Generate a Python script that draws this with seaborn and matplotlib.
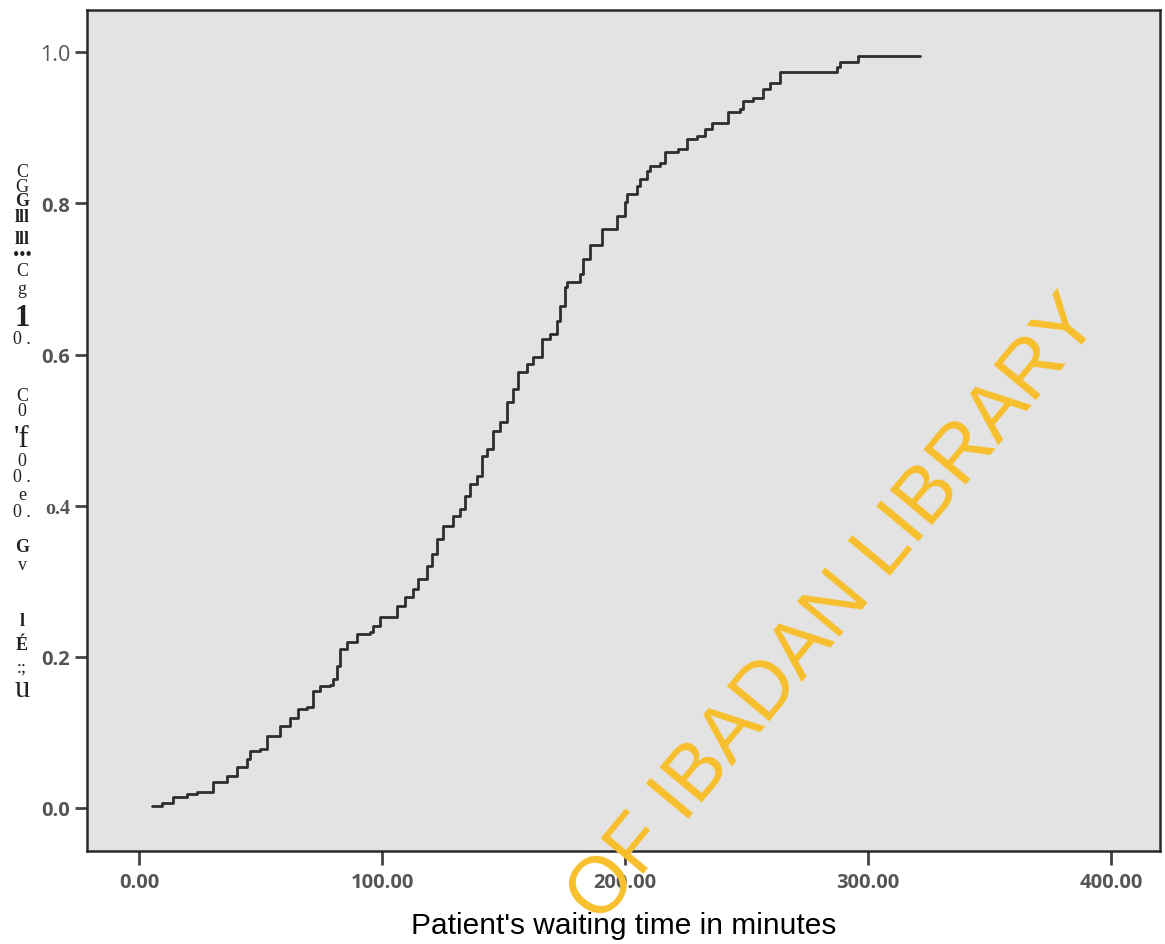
import matplotlib
matplotlib.use("Agg")
import matplotlib.pyplot as plt
import seaborn as sns
import pandas as pd

# cumulative proportion of patients seen
wait_time = [5.2, 9.3, 14.0, 19.8, 23.9, 30.5, 36.2, 40.3, 44.4, 45.7, 49.8, 52.7,
             58.0, 62.1, 65.4, 69.1, 71.6, 74.5, 78.6, 79.8, 81.5, 82.7, 85.6, 89.7,
             95.1, 96.3, 99.2, 106.2, 109.5, 112.8, 114.8, 118.5, 120.6, 122.6, 125.1,
             129.2, 132.1, 134.2, 136.2, 139.1, 141.2, 143.2, 145.7, 148.6, 151.4,
             153.9, 156.0, 159.7, 162.1, 165.8, 169.1, 172.0, 173.3, 175.3, 176.1,
             181.5, 182.7, 185.6, 190.5, 196.7, 200.0, 200.8, 204.9, 206.2, 209.1,
             210.3, 214.4, 216.5, 221.8, 225.5, 229.6, 232.9, 235.8, 242.4, 247.3,
             248.6, 252.7, 256.8, 259.7, 263.8, 287.2, 288.5, 295.9, 321.4]
cum_prop = [0.003, 0.007, 0.015, 0.019, 0.021, 0.034, 0.042, 0.054, 0.065, 0.075, 0.078, 0.095,
            0.108, 0.119, 0.131, 0.134, 0.155, 0.161, 0.163, 0.171, 0.188, 0.210, 0.220, 0.230,
            0.233, 0.241, 0.253, 0.267, 0.279, 0.290, 0.303, 0.320, 0.336, 0.356, 0.373,
            0.386, 0.396, 0.413, 0.429, 0.439, 0.466, 0.475, 0.499, 0.511, 0.537,
            0.554, 0.577, 0.587, 0.597, 0.620, 0.627, 0.644, 0.664, 0.690, 0.696,
            0.706, 0.726, 0.745, 0.766, 0.783, 0.802, 0.812, 0.823, 0.832, 0.843,
            0.849, 0.854, 0.868, 0.872, 0.885, 0.889, 0.898, 0.907, 0.921, 0.925,
            0.935, 0.940, 0.951, 0.960, 0.974, 0.981, 0.987, 0.995, 0.995]

x_ticks = [0, 100, 200, 300, 400]
x_ticklabels = ["0.00", "100.00", "200.00", "300.00", "400.00"]
y_ticks = [0.0, 0.2, 0.4, 0.6, 0.8, 1.0]
y_ticklabels = ["0.0", "0.2", "o.4", "0.6", "0.8", "1.0"]

# scanned (OCR-garbled) y axis title, top to bottom
ylab_glyphs = ["C\nG", "G", "lll", "lll", "\u2022\u2022\u2022", "C", "g", "1", "0 .",
               "C\n0", "'f", "0", "0 .", "e", "0 .", "G", "v", "l", "\u00c9", ":;", "u"]
ylab_ypix = [180, 202, 218, 240, 256, 272, 290, 318, 340,
             404, 440, 462, 478, 496, 513, 548, 565, 622, 645, 668, 690]

sns.set_style("ticks")
plt.rcParams['font.family'] = ['Liberation Sans', 'DejaVu Sans']

fig = plt.figure(figsize=(11.65, 9.45), dpi=100)
ax = fig.add_axes([0.0747, 0.0984, 0.921, 0.890])
ax.set_facecolor("#e3e3e3")

df = pd.DataFrame({"time": wait_time, "cum": cum_prop})
sns.lineplot(data=df, x="time", y="cum", ax=ax, color="#2e2e2e", lw=2,
             drawstyle="steps-post", estimator=None)

ax.set_xlim(-21.4, 420)
ax.set_ylim(-0.057, 1.056)
ax.set_xticks(x_ticks)
ax.set_xticklabels(x_ticklabels, fontfamily="Open Sans", fontweight="bold",
                   fontsize=14.5, color="#555555")
ax.set_yticks(y_ticks)
ax.set_yticklabels(y_ticklabels, fontfamily="Open Sans", fontweight="bold",
                   fontsize=14.5, color="#555555")
for lab in ax.get_yticklabels():
    if lab.get_text() == "1.0":
        lab.set_fontweight("normal")
        lab.set_fontsize(15.5)
    if lab.get_text() == "o.4":
        lab.set_fontfamily("Liberation Serif")
ax.tick_params(axis="x", length=10, width=2, color="#444444", pad=5)
ax.tick_params(axis="y", length=9, width=2, color="#444444", pad=3)
for s in ax.spines.values():
    s.set_color("#2a2a2a")
    s.set_linewidth(1.8)

ax.set_xlabel("Patient's waiting time in minutes", fontsize=21.5, color="black",
              labelpad=14)
ax.set_ylabel("")

for g, yp in zip(ylab_glyphs, ylab_ypix):
    big = g in ("1", "'f", "u")
    fig.text(22 / 1165, 1 - yp / 945, g, ha="center", va="center",
             fontfamily="Liberation Serif", fontsize=22 if big else 13,
             linespacing=0.8,
             fontweight="bold" if g in ("1", "G", "lll", "l", "\u00c9") else "normal",
             color="#222222")

# library watermark
ax.text(835 / 1165, 1 - 610 / 945, "OF IBADAN LIBRARY", transform=fig.transFigure,
        rotation=50.3, rotation_mode="anchor", ha="center", va="center",
        fontsize=57, color="#f8bf2c", clip_on=False, zorder=5)

fig.savefig("out.png", dpi=100)
